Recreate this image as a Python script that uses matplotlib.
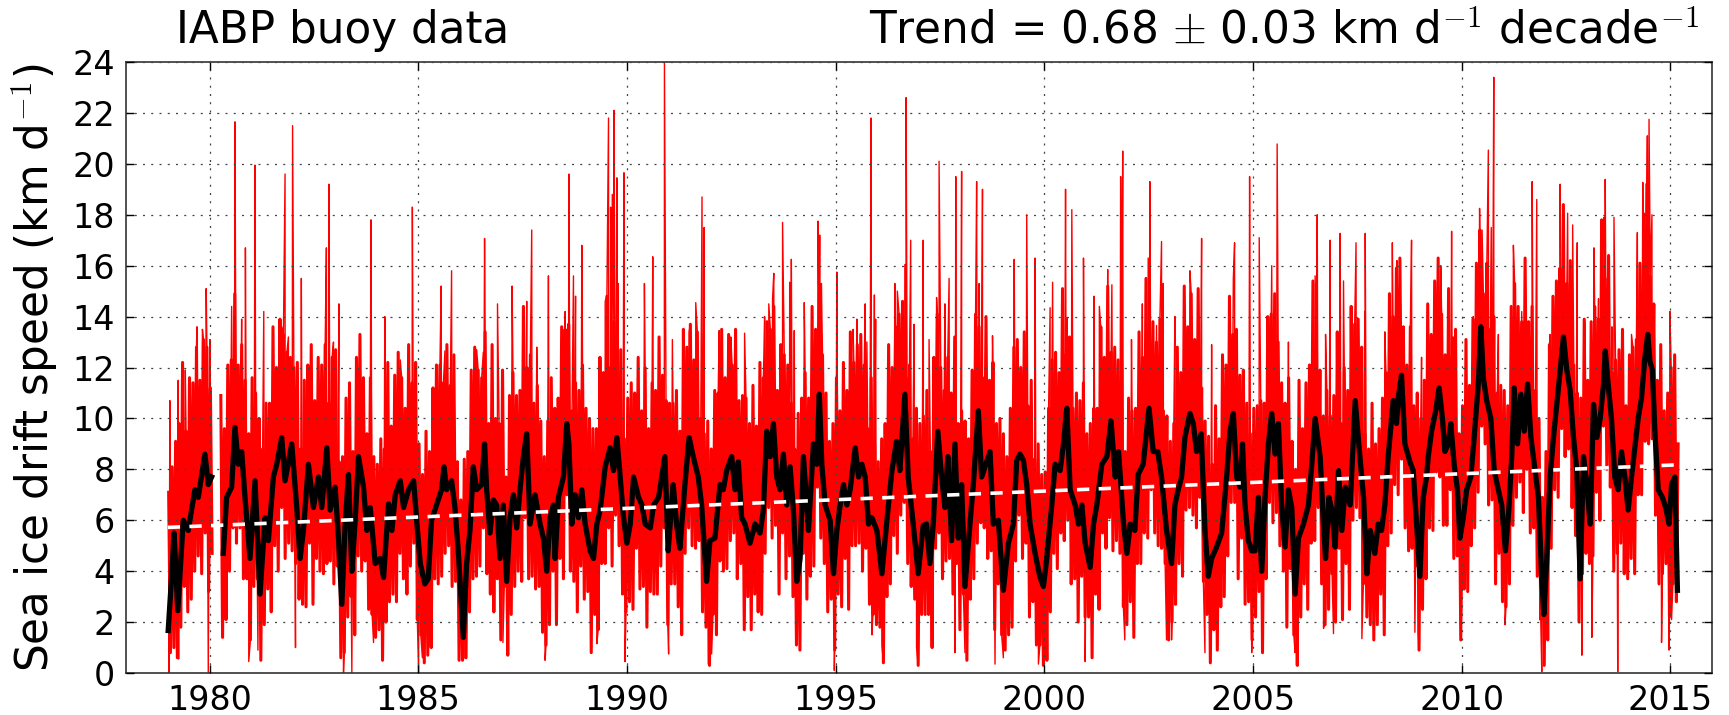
import numpy as np
import matplotlib
matplotlib.use("Agg")
import matplotlib.pyplot as plt

nan = np.nan

# smoothed drift speed (black)
black_t = [1979.01, 1979.10, 1979.15, 1979.24, 1979.37, 1979.49, 1979.65, 1979.73, 1979.89, 1979.97, 1980.05, 1980.20,
           1980.33, 1980.41, 1980.53, 1980.61, 1980.69, 1980.77, 1980.85, 1980.97, 1981.09, 1981.21, 1981.33, 1981.41,
           1981.53, 1981.61, 1981.73, 1981.81, 1981.97, 1982.09, 1982.17, 1982.25, 1982.37, 1982.49, 1982.61, 1982.69,
           1982.81, 1982.89, 1983.01, 1983.09, 1983.17, 1983.25, 1983.33, 1983.41, 1983.49, 1983.57, 1983.69, 1983.77,
           1983.85, 1983.97, 1984.09, 1984.17, 1984.29, 1984.37, 1984.45, 1984.57, 1984.65, 1984.77, 1984.89, 1984.97,
           1985.05, 1985.16, 1985.24, 1985.32, 1985.40, 1985.56, 1985.62, 1985.68, 1985.80, 1985.88, 1985.96, 1986.08,
           1986.16, 1986.24, 1986.32, 1986.40, 1986.52, 1986.59, 1986.64, 1986.72, 1986.80, 1986.88, 1986.96, 1987.04,
           1987.12, 1987.20, 1987.28, 1987.36, 1987.44, 1987.52, 1987.60, 1987.68, 1987.80, 1987.92, 1988.00, 1988.08,
           1988.16, 1988.24, 1988.28, 1988.36, 1988.48, 1988.56, 1988.61, 1988.68, 1988.76, 1988.84, 1988.92, 1989.00,
           1989.12, 1989.20, 1989.28, 1989.36, 1989.48, 1989.60, 1989.68, 1989.76, 1989.84, 1989.92, 1990.00, 1990.08,
           1990.16, 1990.28, 1990.36, 1990.44, 1990.56, 1990.64, 1990.76, 1990.91, 1990.99, 1991.07, 1991.11, 1991.19,
           1991.27, 1991.39, 1991.49, 1991.59, 1991.71, 1991.79, 1991.91, 1991.99, 1992.11, 1992.23, 1992.31, 1992.39,
           1992.51, 1992.59, 1992.67, 1992.75, 1992.83, 1992.95, 1993.07, 1993.19, 1993.27, 1993.35, 1993.43, 1993.51,
           1993.59, 1993.67, 1993.75, 1993.83, 1993.91, 1993.99, 1994.07, 1994.15, 1994.23, 1994.35, 1994.47, 1994.55,
           1994.61, 1994.67, 1994.75, 1994.87, 1994.95, 1995.03, 1995.11, 1995.19, 1995.27, 1995.35, 1995.47, 1995.55,
           1995.63, 1995.71, 1995.79, 1995.87, 1995.99, 1996.11, 1996.23, 1996.35, 1996.46, 1996.54, 1996.66, 1996.74,
           1996.86, 1996.98, 1997.10, 1997.18, 1997.26, 1997.34, 1997.45, 1997.54, 1997.62, 1997.69, 1997.78, 1997.86,
           1997.94, 1998.02, 1998.10, 1998.22, 1998.30, 1998.42, 1998.50, 1998.60, 1998.70, 1998.78, 1998.90, 1999.02,
           1999.14, 1999.26, 1999.34, 1999.42, 1999.50, 1999.58, 1999.66, 1999.78, 1999.90, 1999.98, 2000.06, 2000.18,
           2000.26, 2000.38, 2000.46, 2000.54, 2000.62, 2000.74, 2000.82, 2000.90, 2000.98, 2001.10, 2001.18, 2001.26,
           2001.38, 2001.50, 2001.60, 2001.70, 2001.78, 2001.90, 2001.98, 2002.06, 2002.17, 2002.25, 2002.37, 2002.51,
           2002.61, 2002.72, 2002.81, 2002.93, 2003.05, 2003.13, 2003.21, 2003.29, 2003.37, 2003.49, 2003.57, 2003.65,
           2003.76, 2003.85, 2003.93, 2004.01, 2004.13, 2004.25, 2004.37, 2004.45, 2004.53, 2004.61, 2004.69, 2004.75,
           2004.81, 2004.89, 2004.97, 2005.05, 2005.13, 2005.21, 2005.29, 2005.37, 2005.45, 2005.53, 2005.61, 2005.69,
           2005.77, 2005.85, 2005.93, 2006.01, 2006.09, 2006.21, 2006.33, 2006.41, 2006.49, 2006.61, 2006.69, 2006.74,
           2006.82, 2006.89, 2006.97, 2007.05, 2007.13, 2007.21, 2007.33, 2007.45, 2007.53, 2007.65, 2007.73, 2007.81,
           2007.92, 2008.00, 2008.08, 2008.16, 2008.24, 2008.36, 2008.44, 2008.48, 2008.56, 2008.64, 2008.76, 2008.84,
           2008.92, 2009.00, 2009.08, 2009.16, 2009.20, 2009.28, 2009.38, 2009.46, 2009.54, 2009.60, 2009.68, 2009.74,
           2009.82, 2009.90, 2009.96, 2010.04, 2010.12, 2010.22, 2010.30, 2010.40, 2010.46, 2010.52, 2010.60, 2010.70,
           2010.78, 2010.88, 2010.96, 2011.05, 2011.13, 2011.20, 2011.26, 2011.34, 2011.42, 2011.50, 2011.58, 2011.66,
           2011.76, 2011.84, 2011.92, 2011.97, 2012.04, 2012.12, 2012.20, 2012.32, 2012.44, 2012.52, 2012.60, 2012.68,
           2012.76, 2012.84, 2012.92, 2013.00, 2013.08, 2013.16, 2013.24, 2013.32, 2013.40, 2013.44, 2013.51, 2013.59,
           2013.67, 2013.75, 2013.83, 2013.91, 2013.99, 2014.07, 2014.15, 2014.23, 2014.31, 2014.39, 2014.46, 2014.51,
           2014.57, 2014.63, 2014.71, 2014.81, 2014.89, 2014.97, 2015.03, 2015.11, 2015.17]
black_v = [1.67, 4.0, 5.5, 2.45, 6.0, 5.6, 7.2, 6.9, 8.6, 7.4, 7.7, nan,
           4.7, 6.9, 7.3, 9.65, 8.2, 8.7, 6.9, 4.5, 7.55, 3.1, 6.1, 5.2,
           7.7, 8.2, 9.25, 7.55, 9.0, 6.5, 4.5, 5.6, 8.2, 6.5, 7.7, 6.5,
           8.85, 6.4, 7.3, 5.3, 2.7, 5.85, 7.8, 4.0, 6.0, 8.5, 7.3, 5.6,
           6.5, 4.3, 4.5, 3.75, 6.65, 5.6, 7.0, 7.55, 6.5, 7.2, 7.55, 5.85,
           4.3, 3.5, 3.7, 6.0, 6.4, 7.2, 8.1, 7.2, 7.55, 6.5, 4.8, 1.4,
           4.3, 5.6, 8.1, 7.2, 7.4, 9.0, 7.2, 5.5, 6.8, 6.6, 4.5, 6.6,
           3.6, 6.1, 7.0, 5.7, 7.2, 8.5, 9.4, 5.85, 7.0, 5.85, 5.3, 4.0,
           6.1, 6.6, 4.5, 6.9, 7.7, 9.8, 9.0, 5.85, 7.0, 6.1, 7.2, 5.85,
           4.8, 4.5, 5.85, 6.4, 8.1, 8.85, 7.95, 9.25, 7.7, 6.1, 5.1, 5.85,
           7.7, 6.9, 6.6, 5.85, 5.7, 6.6, 6.9, 8.5, 4.8, 6.6, 7.4, 5.85,
           4.9, 7.4, 9.25, 8.5, 7.7, 6.6, 3.6, 5.2, 5.3, 7.4, 7.2, 7.95,
           8.5, 7.2, 8.3, 6.1, 5.85, 5.1, 5.85, 5.5, 6.4, 9.5, 8.5, 9.8,
           7.7, 7.2, 8.6, 6.6, 8.1, 6.4, 3.6, 4.5, 8.5, 5.6, 9.0, 8.2,
           10.95, 8.2, 6.6, 6.0, 3.9, 5.6, 6.6, 7.4, 6.6, 7.2, 8.85, 7.7,
           8.2, 7.7, 5.85, 6.1, 5.6, 3.9, 6.0, 7.95, 9.1, 7.95, 10.95, 7.7,
           5.85, 3.9, 5.8, 5.85, 4.3, 5.85, 9.5, 7.7, 6.5, 8.5, 5.2, 9.0,
           5.3, 7.4, 3.4, 5.85, 7.4, 10.3, 7.7, 8.2, 8.7, 5.85, 6.0, 3.25,
           5.1, 5.85, 8.35, 8.6, 8.35, 7.4, 5.85, 4.7, 3.75, 3.4, 4.5, 6.6,
           8.2, 7.95, 9.0, 10.4, 7.2, 6.6, 5.85, 6.6, 5.1, 4.15, 5.85, 6.6,
           8.2, 8.5, 9.9, 7.7, 8.7, 5.85, 4.7, 5.85, 5.6, 7.8, 8.2, 10.4,
           8.7, 8.7, 7.7, 5.6, 4.3, 6.6, 7.2, 7.7, 9.25, 10.2, 9.8, 8.7,
           9.4, 5.6, 3.8, 4.5, 4.95, 5.5, 7.7, 9.5, 10.2, 7.7, 7.3, 9.0,
           6.6, 5.2, 4.8, 4.8, 6.9, 4.0, 6.9, 9.0, 10.2, 8.6, 9.8, 6.5,
           4.95, 7.2, 6.5, 3.1, 5.3, 5.85, 6.6, 8.2, 10.0, 8.5, 5.85, 4.5,
           6.9, 6.4, 4.95, 7.95, 5.6, 7.3, 6.6, 10.7, 9.1, 6.9, 3.9, 5.6,
           4.7, 5.85, 5.6, 6.6, 8.5, 10.7, 9.8, 10.8, 11.7, 9.0, 8.3, 7.95,
           5.85, 3.8, 6.9, 7.7, 8.5, 9.5, 10.3, 11.2, 10.0, 8.7, 9.0, 9.8,
           8.2, 7.2, 5.3, 6.1, 7.2, 7.7, 9.25, 11.35, 13.6, 11.6, 10.7, 10.0,
           7.95, 7.2, 6.6, 4.8, 6.4, 8.5, 11.2, 9.0, 10.95, 9.5, 11.35, 9.25,
           7.95, 6.9, 3.75, 2.3, 4.5, 7.7, 9.25, 11.2, 13.2, 11.9, 11.1, 9.25,
           7.95, 3.7, 8.5, 7.4, 5.85, 10.55, 9.25, 10.0, 11.35, 12.65, 11.35, 10.0,
           7.7, 7.2, 8.7, 7.7, 6.4, 7.7, 8.85, 10.0, 10.8, 12.4, 13.3, 12.25,
           11.9, 9.5, 7.2, 6.9, 6.5, 5.85, 7.4, 7.7, 3.25]

# daily speed (red): monthly high and low, Jan 1979 onwards
red_hi = [7.1, 8.1, 9.1, 9.8, 12.2, 9.5, 11.6, 11.4, 12.8, 11.5, 13.1, 12.8,        # 1979
          11.2, nan, nan, 10.9, 9.6, 12.1, 12.3, 14.9, 12.1, 12.9, 11.5, 9.4,        # 1980
          11.6, 11.0, 10.0, 8.8, 10.6, 10.6, 13.6, 12.0, 13.9, 13.3, 12.6, 12.4,     # 1981
          12.0, 12.2, 8.8, 11.5, 12.1, 12.9, 10.7, 12.4, 12.1, 12.9, 10.6, 12.4,     # 1982
          12.7, 8.3, 8.5, 10.8, 11.4, 8.7, 12.4, 13.3, 11.6, 9.4, 11.6, 8.5,         # 1983
          8.2, 9.2, 8.8, 12.2, 9.7, 11.7, 12.6, 11.6, 10.4, 12.9, 11.4, 12.2,        # 1984
          9.0, 7.8, 9.5, 8.7, 11.2, 12.1, 12.1, 11.4, 12.9, 11.3, 12.5, 8.3,         # 1985
          6.8, 8.4, 8.7, 11.9, 12.8, 11.9, 11.6, 13.4, 9.8, 12.9, 10.0, 9.8,         # 1986
          11.9, 7.7, 10.9, 11.8, 10.9, 11.1, 14.4, 12.0, 12.5, 10.6, 11.3, 9.9,      # 1987
          8.5, 9.9, 11.6, 10.4, 10.8, 13.6, 13.5, 13.7, 10.3, 11.4, 11.1, 12.1,      # 1988
          10.4, 10.0, 9.6, 9.6, 12.4, 11.8, 14.8, 12.0, 13.8, 12.6, 12.7, 9.2,       # 1989
          10.8, 11.4, 11.0, 12.4, 10.3, 12.0, 9.6, 11.4, 11.1, 13.2, 11.7, 10.7,     # 1990
          10.6, 10.6, 11.1, 9.5, 13.5, 12.8, 13.7, 12.3, 13.4, 10.0, 9.4, 9.9,       # 1991
          8.8, 11.1, 11.0, 13.5, 11.6, 13.3, 12.1, 13.5, 10.7, 10.9, 10.8, 9.8,      # 1992
          11.3, 9.7, 12.2, 11.6, 13.8, 13.5, 14.4, 11.1, 12.9, 12.5, 12.1, 10.6,     # 1993
          8.8, 10.2, 10.8, 11.8, 10.8, 14.4, 13.5, 13.7, 12.5, 11.0, 9.1, 9.8,       # 1994
          11.6, 10.3, 12.2, 11.1, 13.4, 12.2, 12.9, 13.3, 12.1, 9.6, 11.6, 9.0,      # 1995
          8.3, 9.2, 9.8, 12.9, 12.0, 13.6, 14.1, 14.6, 11.6, 12.1, 9.2, 10.4,        # 1996
          9.8, 10.1, 11.1, 8.7, 12.4, 14.1, 12.0, 11.1, 12.4, 11.0, 13.2, 9.8,       # 1997
          10.3, 9.9, 9.2, 11.9, 14.1, 13.6, 11.6, 14.0, 11.5, 12.2, 9.8, 10.0,       # 1998
          9.4, 8.5, 10.4, 12.8, 13.1, 12.0, 13.4, 10.5, 11.5, 8.4, 9.0, 7.8,         # 1999
          7.9, 10.4, 12.3, 12.6, 11.8, 15.1, 12.5, 13.2, 10.4, 11.0, 10.7, 11.4,     # 2000
          9.4, 9.8, 10.4, 10.4, 13.6, 12.4, 15.2, 12.6, 12.8, 12.3, 12.2, 8.7,       # 2001
          10.8, 10.3, 10.4, 13.4, 12.4, 15.5, 13.6, 13.8, 13.0, 13.9, 10.3, 10.1,    # 2002
          9.1, 9.8, 12.8, 11.8, 15.2, 13.6, 14.9, 13.1, 15.1, 11.2, 9.9, 9.3,        # 2003
          8.2, 10.5, 9.2, 12.5, 12.1, 14.8, 13.3, 13.5, 11.7, 11.9, 10.6, 9.4,       # 2004
          10.4, 10.5, 10.7, 10.6, 14.0, 14.1, 14.9, 13.0, 11.4, 10.6, 11.6, 9.1,     # 2005
          8.0, 11.5, 9.6, 11.4, 12.1, 15.4, 12.7, 11.9, 10.1, 11.1, 10.1, 10.9,      # 2006
          13.4, 9.8, 12.0, 11.1, 14.4, 13.7, 13.9, 12.8, 9.4, 8.8, 10.6, 9.0,        # 2007
          9.6, 10.8, 11.8, 14.9, 14.0, 15.9, 16.3, 13.6, 12.1, 13.6, 10.5, 11.0,     # 2008
          10.0, 11.5, 14.5, 13.3, 15.4, 16.3, 14.1, 12.5, 15.1, 12.4, 13.5, 9.4,     # 2009
          10.5, 13.1, 11.3, 13.9, 16.1, 17.4, 14.9, 16.1, 13.5, 14.0, 11.0, 11.3,    # 2010
          11.1, 10.5, 14.4, 15.3, 14.4, 13.8, 16.3, 13.8, 14.4, 11.1, 10.0, 6.9,     # 2011
          8.7, 12.9, 14.8, 15.4, 15.9, 18.4, 15.3, 16.2, 12.1, 11.0, 10.8, 13.9,     # 2012
          11.5, 13.8, 14.4, 13.9, 17.8, 15.5, 16.4, 11.8, 12.3, 12.7, 13.5, 10.5,    # 2013
          12.5, 12.8, 13.1, 16.1, 16.0, 19.2, 15.6, 14.5, 11.5, 12.9, 10.3, 11.0,    # 2014
          12.0, 12.5, 9.0, nan, nan, nan, nan, nan, nan, nan, nan, nan]              # 2015
red_lo = [0.8, 1.0, 0.6, 1.8, 3.4, 2.4, 2.9, 4.0, 4.6, 3.9, 5.5, 3.2,
          4.7, nan, nan, 1.4, 2.1, 4.0, 5.7, 5.1, 5.7, 3.7, 3.7, 1.3,
          3.4, 3.7, 0.5, 1.9, 3.3, 2.4, 5.0, 4.0, 6.5, 4.5, 5.1, 4.8,
          4.3, 2.9, 2.7, 2.6, 5.1, 2.7, 4.5, 4.0, 3.9, 4.3, 4.4, 3.5,
          4.2, 0.6, 0.8, 2.2, 3.0, 1.5, 4.6, 4.0, 4.4, 2.5, 2.3, 1.4,
          1.7, 0.5, 2.0, 2.8, 3.1, 2.8, 4.7, 3.7, 3.1, 4.2, 5.1, 2.1,
          1.5, 0.4, 0.7, 1.0, 3.7, 3.5, 3.8, 4.7, 5.0, 3.4, 3.6, 0.5,
          0.5, 0.6, 2.4, 3.7, 3.8, 4.2, 5.7, 3.9, 3.1, 2.4, 3.7, 1.3,
          3.4, 0.7, 2.3, 3.4, 4.0, 3.6, 6.1, 3.7, 3.8, 3.3, 3.4, 1.6,
          1.1, 1.9, 4.0, 1.9, 4.5, 3.7, 7.0, 4.0, 3.6, 2.4, 4.2, 2.9,
          3.2, 0.8, 2.3, 1.7, 4.3, 4.3, 5.7, 4.2, 6.2, 5.0, 3.1, 2.4,
          2.8, 2.5, 4.9, 3.3, 3.4, 1.8, 3.2, 3.1, 3.1, 4.2, 5.7, 1.9,
          3.5, 3.5, 2.6, 1.5, 4.7, 5.7, 5.0, 4.9, 5.2, 2.4, 1.8, 0.3,
          2.3, 1.5, 4.4, 4.0, 4.1, 5.2, 5.5, 3.7, 4.3, 1.7, 3.0, 1.7,
          3.1, 2.4, 2.3, 4.7, 6.5, 5.3, 5.8, 3.1, 5.5, 3.7, 4.6, 3.0,
          1.1, 0.9, 4.7, 2.9, 3.8, 4.2, 7.3, 5.3, 4.3, 2.4, 2.9, 0.9,
          3.1, 2.6, 4.5, 2.5, 5.0, 5.0, 5.1, 4.0, 4.9, 2.7, 2.3, 1.9,
          1.8, 0.4, 3.0, 3.5, 5.4, 4.7, 6.2, 6.7, 4.3, 3.4, 2.9, 0.3,
          2.3, 2.3, 2.3, 1.0, 4.9, 5.5, 3.7, 4.4, 4.5, 3.1, 4.3, 1.7,
          3.1, 0.5, 2.9, 3.7, 5.1, 5.9, 5.7, 4.5, 4.8, 1.7, 3.5, 1.5,
          0.9, 1.5, 1.8, 4.4, 6.2, 4.5, 5.1, 2.2, 2.8, 1.1, 1.1, 0.3,
          0.5, 2.4, 4.7, 4.1, 5.5, 5.2, 6.0, 3.5, 3.7, 2.0, 3.8, 2.2,
          2.2, 0.6, 3.1, 2.5, 5.5, 4.9, 6.1, 4.8, 5.2, 4.7, 2.6, 1.9,
          2.8, 1.4, 4.3, 4.3, 5.5, 5.3, 7.2, 5.5, 5.0, 4.9, 4.3, 1.3,
          2.0, 2.7, 4.3, 3.8, 6.4, 6.5, 6.2, 5.7, 6.9, 3.6, 2.3, 0.4,
          1.7, 0.9, 2.6, 3.0, 4.6, 6.7, 6.7, 3.7, 5.3, 2.7, 2.8, 1.3,
          2.2, 3.2, 0.8, 3.7, 6.7, 5.9, 6.3, 5.0, 4.0, 1.8, 4.1, 1.5,
          0.3, 2.2, 3.5, 2.5, 5.1, 5.2, 6.5, 3.5, 1.9, 2.5, 3.9, 2.0,
          4.9, 2.1, 4.3, 2.5, 6.0, 6.5, 6.1, 3.5, 2.2, 1.9, 1.3, 1.9,
          3.1, 1.5, 5.0, 5.5, 7.4, 7.0, 8.4, 5.7, 4.8, 4.9, 4.2, 0.9,
          2.5, 3.7, 5.7, 5.6, 7.9, 7.7, 5.8, 5.8, 7.2, 4.5, 4.6, 1.3,
          3.3, 3.2, 5.0, 5.7, 7.1, 9.7, 9.0, 6.6, 6.8, 3.5, 4.7, 2.8,
          2.6, 3.5, 5.8, 6.9, 7.5, 6.3, 8.0, 5.5, 5.7, 3.8, 2.1, 0.3,
          1.3, 4.9, 7.2, 6.9, 9.6, 8.5, 8.8, 6.5, 5.4, 2.0, 3.9, 4.7,
          4.3, 4.6, 7.1, 6.0, 9.7, 8.0, 7.3, 4.0, 4.7, 5.1, 3.9, 3.7,
          4.5, 3.9, 7.0, 7.0, 9.1, 9.0, 9.2, 6.2, 3.5, 3.9, 4.3, 2.2,
          3.5, 2.8, nan, nan, nan, nan, nan, nan, nan, nan, nan, nan]

# single days with very high speed
spike_t = [1979.05, 1979.25, 1979.42, 1979.70, 1979.83, 1979.92, 1980.01, 1980.53, 1980.61, 1980.77, 1980.86, 1981.09,
           1981.30, 1981.73, 1981.81, 1981.89, 1981.99, 1982.20, 1982.80, 1982.86, 1982.97, 1983.10, 1983.87, 1984.20,
           1984.57, 1984.77, 1984.86, 1985.55, 1985.64, 1985.80, 1986.40, 1986.56, 1986.59, 1986.90, 1987.25, 1987.60,
           1987.72, 1987.84, 1988.12, 1988.52, 1988.61, 1988.72, 1988.77, 1988.92, 1989.48, 1989.56, 1989.61, 1989.65,
           1989.69, 1989.76, 1989.79, 1989.93, 1990.42, 1990.62, 1990.90, 1991.09, 1991.49, 1991.65, 1991.80, 1991.85,
           1992.21, 1992.49, 1992.82, 1993.30, 1993.40, 1993.49, 1993.52, 1993.73, 1993.90, 1993.94, 1994.01, 1994.25,
           1994.44, 1994.58, 1994.62, 1994.66, 1995.03, 1995.42, 1995.51, 1995.71, 1995.75, 1995.85, 1995.93, 1995.96,
           1996.42, 1996.48, 1996.66, 1996.69, 1996.80, 1996.88, 1997.10, 1997.24, 1997.42, 1997.48, 1997.62, 1997.72,
           1997.88, 1998.02, 1998.38, 1998.44, 1998.52, 1998.76, 1999.28, 1999.58, 1999.78, 2000.14, 2000.20, 2000.51,
           2000.55, 2000.66, 2000.94, 2001.19, 2001.32, 2001.52, 2001.62, 2001.83, 2001.88, 2002.09, 2002.35, 2002.49,
           2002.53, 2002.69, 2002.81, 2002.85, 2003.13, 2003.49, 2003.77, 2004.01, 2004.53, 2004.56, 2004.92, 2004.93,
           2005.15, 2005.45, 2005.58, 2005.85, 2006.49, 2006.54, 2006.74, 2006.85, 2007.09, 2007.17, 2007.47, 2007.68,
           2007.69, 2008.16, 2008.34, 2008.45, 2008.80, 2009.04, 2009.36, 2009.50, 2009.76, 2009.80, 2010.28, 2010.43,
           2010.49, 2010.64, 2010.71, 2010.77, 2010.88, 2011.24, 2011.44, 2011.69, 2011.80, 2012.12, 2012.36, 2012.44,
           2012.54, 2012.66, 2012.77, 2012.96, 2013.17, 2013.28, 2013.41, 2013.44, 2013.60, 2013.65, 2014.07, 2014.21,
           2014.34, 2014.38, 2014.45, 2014.49, 2014.56, 2014.99, 2015.10]
spike_v = [10.7, 11.5, 11.9, 13.6, 13.5, 15.1, 13.1, 14.4, 21.65, 13.9, 16.7, 19.95,
           14.2, 13.6, 19.6, 13.2, 21.5, 15.5, 16.7, 19.2, 13.0, 14.5, 17.8, 14.0,
           12.3, 12.8, 18.3, 15.2, 12.65, 15.8, 12.7, 12.6, 17.07, 14.5, 15.2, 14.6,
           17.4, 12.8, 15.6, 14.2, 19.6, 15.6, 14.8, 16.8, 14.6, 21.8, 18.3, 18.8,
           22.1, 19.45, 15.3, 19.65, 15.3, 16.35, 24.0, 13.1, 13.4, 14.55, 18.7, 17.5,
           13.45, 13.2, 13.35, 14.0, 14.5, 14.7, 15.7, 17.7, 15.35, 16.25, 13.45, 14.55,
           13.5, 17.75, 17.2, 15.3, 15.75, 13.5, 13.9, 14.5, 13.0, 21.8, 14.85, 13.9,
           15.3, 15.0, 16.05, 22.6, 17.0, 13.7, 17.0, 13.1, 14.75, 20.1, 14.5, 15.5,
           19.5, 19.7, 19.3, 15.3, 19.0, 13.25, 16.25, 18.0, 16.3, 14.35, 15.35, 19.0,
           13.95, 18.2, 16.3, 14.8, 14.4, 15.85, 15.25, 19.5, 20.5, 13.1, 14.5, 16.3,
           19.3, 13.65, 16.95, 15.3, 14.0, 15.8, 17.07, 12.9, 15.5, 16.9, 19.5, 14.0,
           17.1, 16.0, 20.78, 13.0, 15.6, 18.0, 13.3, 17.0, 17.27, 15.4, 16.9, 14.2,
           17.27, 13.4, 16.9, 16.2, 17.0, 12.4, 13.7, 16.0, 17.35, 13.2, 14.0, 18.25,
           17.4, 20.54, 17.5, 23.4, 13.3, 16.8, 14.2, 19.3, 18.6, 13.3, 19.2, 17.7,
           18.06, 17.6, 16.9, 13.7, 16.7, 14.7, 17.9, 19.39, 13.6, 17.9, 13.3, 17.3,
           19.27, 18.06, 21.1, 21.75, 18.0, 14.2, 12.4]

# single days with very low speed
low_t = [1979.03, 1979.26, 1979.97, 1980.94, 1981.16, 1982.06, 1983.21, 1983.41, 1983.93, 1985.01, 1985.10, 1986.10,
         1987.03, 1988.04, 1989.28, 1989.955, 1991.00, 1991.95, 1992.03, 1994.07, 1994.97, 1995.87, 1996.11, 1996.94,
         1997.86, 1998.10, 1998.82, 1999.02, 1999.86, 2000.00, 2000.98, 2001.93, 2002.93, 2003.05, 2003.85, 2003.97,
         2004.97, 2006.01, 2006.69, 2006.93, 2007.61, 2008.88, 2008.96, 2010.00, 2011.04, 2011.92, 2011.98, 2012.88,
         2013.12, 2013.74, 2014.79, 2014.97, 2015.03]
low_v = [0.0, 0.55, 0.0, 0.45, 0.9, 1.0, 0.0, 0.0, 1.2, 0.0, 0.6, 0.6,
         1.2, 0.5, 1.15, 0.45, 0.75, 0.35, 0.75, 1.7, 0.1, 1.5, 1.1, 1.0,
         0.8, 0.8, 0.35, 0.6, 0.35, 0.45, 0.45, 1.3, 1.3, 1.3, 0.8, 0.7,
         0.8, 0.8, 1.75, 1.55, 1.35, 1.6, 1.6, 2.5, 1.9, 0.05, 0.6, 0.7,
         1.4, 0.05, 1.2, 0.9, 2.1]

trend_t = [1979.0, 2015.2]
trend_v = [5.72, 8.18]

x_ticks = [1980, 1985, 1990, 1995, 2000, 2005, 2010, 2015]
y_ticks = list(range(0, 25, 2))

plt.rcParams["font.family"] = ["DejaVu Sans"]
plt.rcParams["mathtext.fontset"] = "cm"

# red line: monthly highs and lows, then the single days put in time order
k = np.arange(len(red_hi))
band_t = np.column_stack([1979 + (2 * k + 0.5) / 24, 1979 + (2 * k + 1.5) / 24]).ravel()
band_v = np.column_stack([red_hi, red_lo]).ravel()
t_all = np.concatenate([band_t, spike_t, low_t])
v_all = np.concatenate([band_v, spike_v, low_v])
order = np.argsort(t_all, kind="stable")

fig = plt.figure(figsize=(17.29, 7.15), dpi=100, facecolor="w")
ax = fig.add_axes([0.0729, 0.0587, 0.9173, 0.8546])

ax.plot(band_t, band_v, color="#ff0000", lw=2.2, zorder=1)
ax.plot(t_all[order], v_all[order], color="#ff0000", lw=1.0, zorder=1)
ax.plot(black_t, black_v, color="k", lw=3.8, zorder=3)
ax.plot(trend_t, trend_v, color="w", lw=2.6, linestyle=(0, (3.4, 2.6)), zorder=4)

ax.set_xlim(1978, 2016)
ax.set_ylim(0, 24)
ax.set_xticks(x_ticks)
ax.set_yticks(y_ticks)
ax.set_axisbelow(False)
ax.grid(True, color="#444444", linestyle=(0, (1.6, 5.0)), lw=0.9)
ax.tick_params(direction="in", top=True, right=True, length=6, width=1, labelsize=24, pad=8)
for s in ax.spines.values():
    s.set_linewidth(1.2)
    s.set_color("#333333")

fig.text(0.1984, 0.9394, "IABP buoy data", fontsize=31.5, ha="center", va="baseline")
fig.text(0.9832, 0.9394, r"Trend = 0.68 $\pm$ 0.03 km d$^{-1}$ decade$^{-1}$",
         fontsize=31.5, ha="right", va="baseline")
fig.text(0.0202, 0.486, r"Sea ice drift speed (km d$^{-1}$)", fontsize=31.5,
         rotation=90, ha="center", va="center")

fig.savefig("out.png", dpi=100)
